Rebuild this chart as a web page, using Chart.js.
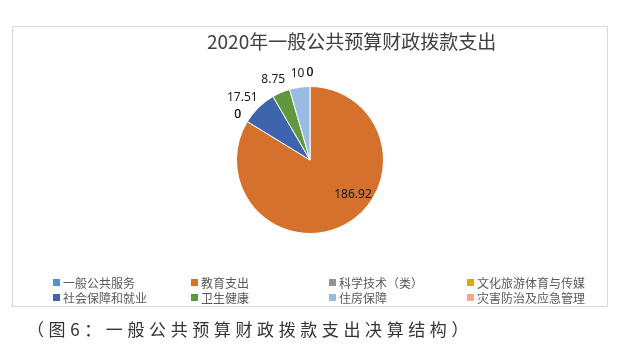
<!DOCTYPE html>
<html>
<head>
<meta charset="utf-8">
<script src="https://cdn.jsdelivr.net/npm/chart.js@4.4.1/dist/chart.umd.min.js"></script>
<style>
  html, body { margin: 0; padding: 0; background: #fff; }
  #wrap { position: relative; width: 625px; height: 355px; overflow: hidden; font-family: "Noto Sans CJK SC", "Noto Sans", sans-serif; }
  #box { position: absolute; left: 12px; top: 26px; width: 594px; height: 279px; border: 1px solid #d9d9d9; }
  #cv { position: absolute; left: 0; top: 0; }
  #title { position: absolute; left: 207px; top: 29px; line-height: 24px; font-size: 19px; color: #404040; white-space: nowrap; }
  #legend { position: absolute; left: 53px; top: 275px; width: 560px; }
  .li { position: absolute; height: 15px; line-height: 15px; font-size: 12px; color: #595959; white-space: nowrap; }
  .li i { position: absolute; left: 0; top: 4px; width: 7px; height: 7px; }
  .li span { position: absolute; left: 10px; top: 0; }
  #caption { position: absolute; left: 27px; top: 317px; line-height: 24px; font-size: 17px; letter-spacing: 4.6px; color: #333; white-space: nowrap; }
</style>
</head>
<body>
<div id="wrap">
  <div id="box"></div>
  <canvas id="cv" width="625" height="355"></canvas>
  <div id="title"></div>
  <div id="legend"></div>
  <div id="caption"></div>
</div>
<script>
// ---- data ----
const chartTitle = "2020年一般公共预算财政拨款支出";
const captionText = "（图6：一般公共预算财政拨款支出决算结构）";
const categories = ["一般公共服务", "教育支出", "科学技术（类）", "文化旅游体育与传媒", "社会保障和就业", "卫生健康", "住房保障", "灾害防治及应急管理"];
const values = [0, 186.92, 0, 0, 17.51, 8.75, 10, 0];
const valueLabels = ["0", "186.92", "0", "0", "17.51", "8.75", "10", "0"];

// ---- style ----
const colors = ["#5a8fc9", "#d5702d", "#939393", "#e0a800", "#3e64ae", "#62983d", "#98bbe1", "#f0a98a"];

document.getElementById('title').textContent = chartTitle;
document.getElementById('caption').textContent = captionText;

// legend: 4 columns x 2 rows
const legend = document.getElementById('legend');
const colStep = 138, rowStep = 15;
categories.forEach((c, i) => {
  const d = document.createElement('div');
  d.className = 'li';
  d.style.left = ((i % 4) * colStep) + 'px';
  d.style.top = (Math.floor(i / 4) * rowStep) + 'px';
  const m = document.createElement('i');
  m.style.background = colors[i];
  const s = document.createElement('span');
  s.textContent = c;
  d.appendChild(m); d.appendChild(s);
  legend.appendChild(d);
});

const labelPlugin = {
  id: 'sliceLabels',
  afterDatasetsDraw(chart) {
    const ctx = chart.ctx;
    const meta = chart.getDatasetMeta(0);
    const total = values.reduce((a, b) => a + b, 0);
    ctx.save();
    ctx.font = '12px "Noto Sans", "DejaVu Sans", sans-serif';
    ctx.fillStyle = '#1a1a1a';
    ctx.textAlign = 'center';
    ctx.textBaseline = 'middle';
    meta.data.forEach((arc, i) => {
      const p = arc.getProps(['x', 'y', 'startAngle', 'endAngle', 'outerRadius']);
      const txt = valueLabels[i];
      const w = ctx.measureText(txt).width;
      const h = 12;
      let a = (p.startAngle + p.endAngle) / 2;
      let x, y;
      if (values[i] / total > 0.5) {
        a += -22 * Math.PI / 180;
        x = p.x + Math.cos(a) * p.outerRadius * 0.75;
        y = p.y + Math.sin(a) * p.outerRadius * 0.75;
      } else {
        const dx = Math.cos(a), dy = Math.sin(a);
        const rr = p.outerRadius + 8;
        x = p.x + dx * rr + dx * w / 2;
        y = p.y + dy * rr + dy * h / 2;
      }
      ctx.fillText(txt, x, y);
    });
    ctx.restore();
  }
};

new Chart(document.getElementById('cv'), {
  type: 'pie',
  data: {
    labels: categories,
    datasets: [{
      data: values,
      backgroundColor: colors,
      borderColor: '#ffffff',
      borderWidth: 1,
      hoverOffset: 0
    }]
  },
  options: {
    responsive: false,
    animation: false,
    events: [],
    layout: { padding: { top: 86, bottom: 121, left: 0, right: 5 } },
    plugins: {
      legend: { display: false },
      title: { display: false },
      tooltip: { enabled: false }
    }
  },
  plugins: [labelPlugin]
});
</script>
</body>
</html>
